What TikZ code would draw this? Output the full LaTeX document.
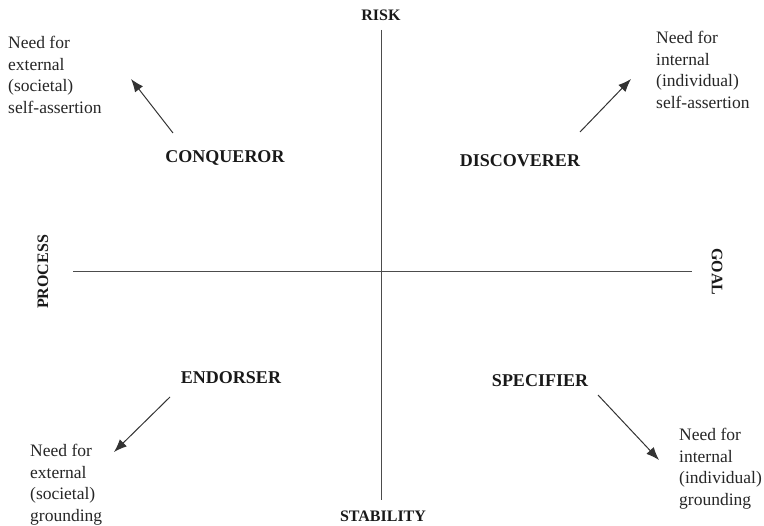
\documentclass[tikz,border=0pt]{standalone}
\usepackage{fontspec}
\setmainfont{Liberation Serif}
\usetikzlibrary{arrows.meta, positioning}

\begin{document}
\begin{tikzpicture}[
    x=1pt, y=-1pt,
    axis/.style={draw=black!70, line width=0.9pt},
    quad/.style={font=\fontsize{18}{20}\selectfont\bfseries, text=black!90},
    pole/.style={font=\fontsize{16}{18}\selectfont\bfseries, text=black!90},
    need/.style={font=\fontsize{17.5}{21.5}\selectfont, text=black!85, align=left, anchor=north west, inner sep=0pt},
    arrow/.style={draw=black!80, line width=1pt, -{Latex[length=13pt, width=10pt]}}
]
\useasboundingbox (0,0) rectangle (764,526);

% Axes
\coordinate (top) at (381,30);
\coordinate (bottom) at (381,500);
\coordinate (left) at (73,271);
\coordinate (right) at (692,271);
\draw [axis] (top) -- (bottom);
\draw [axis] (left) -- (right);

% Poles
\node (risk) [pole] at (381,15) {RISK};
\node (stability) [pole] at (383,516) {STABILITY};
\node (process) [pole, rotate=90] at (43,272) {PROCESS};
\node (goal) [pole, rotate=-90] at (717,272) {GOAL};

% Quadrants
\node (conqueror) [quad] at (225,158) {CONQUEROR};
\node (discoverer) [quad] at (520,161) {DISCOVERER};
\node (endorser) [quad] at (231,378) {ENDORSER};
\node (specifier) [quad] at (540,381) {SPECIFIER};

% Needs
\node (extself) [need] at (8,36) {Need for\\external\\(societal)\\self-assertion};
\node (intself) [need] at (656,31) {Need for\\internal\\(individual)\\self-assertion};
\node (extground) [need] at (30,444) {Need for\\external\\(societal)\\grounding};
\node (intground) [need] at (679,428) {Need for\\internal\\(individual)\\grounding};

% Arrows
\coordinate (cq) at (173,133);
\coordinate (dc) at (580,132);
\coordinate (en) at (170,397);
\coordinate (sp) at (598,395);
\coordinate (cqend) at (131,79);
\coordinate (dcend) at (631,79);
\coordinate (enend) at (114,452);
\coordinate (spend) at (659,460);
\draw [arrow] (cq) -- (cqend);
\draw [arrow] (dc) -- (dcend);
\draw [arrow] (en) -- (enend);
\draw [arrow] (sp) -- (spend);

\end{tikzpicture}
\end{document}
